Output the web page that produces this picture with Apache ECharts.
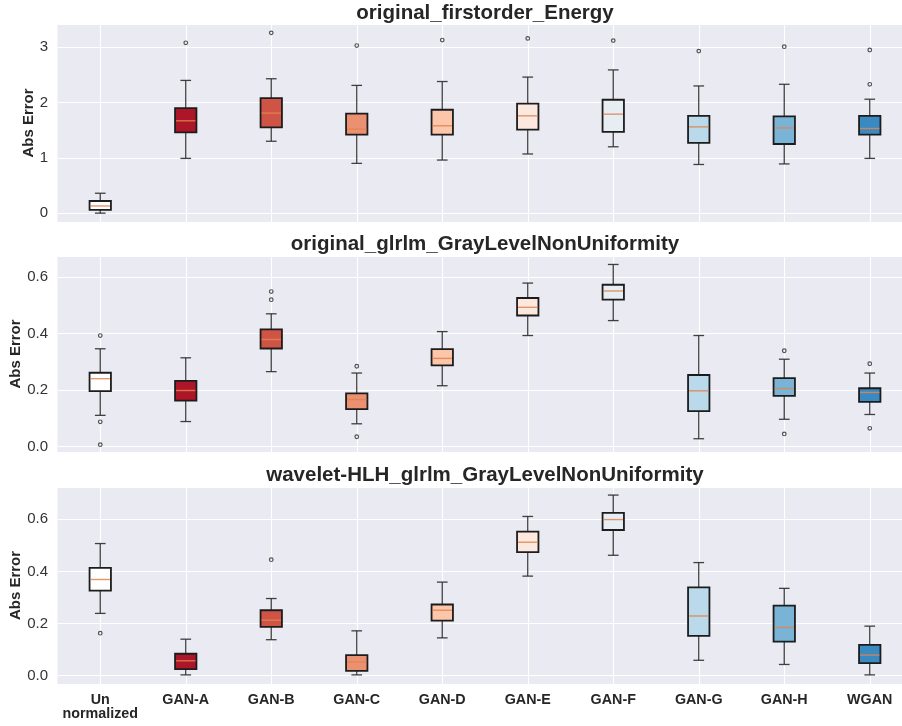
<!DOCTYPE html>
<html>
<head>
<meta charset="utf-8">
<title>Abs Error by normalization method</title>
<script src="https://cdn.jsdelivr.net/npm/echarts@6/dist/echarts.min.js"></script>
<style>
  html, body { margin: 0; padding: 0; background: #ffffff; }
  #chart { width: 902px; height: 726px; }
</style>
</head>
<body>
<div id="chart"></div>
<script>
// Methods compared on the x axis
const categories = ['Un\nnormalized', 'GAN-A', 'GAN-B', 'GAN-C', 'GAN-D', 'GAN-E', 'GAN-F', 'GAN-G', 'GAN-H', 'WGAN'];
const boxColors = ['#ffffff', '#ad1529', '#d05446', '#eb9070', '#fbc6a9', '#fce8de', '#e6eef4', '#bad9ea', '#79b4d7', '#3a8ac1'];

// Box statistics per method: [lower whisker, Q1, median, Q3, upper whisker]
const energyStats = [
  [0.00, 0.06, 0.13, 0.22, 0.36],
  [0.99, 1.46, 1.67, 1.90, 2.40],
  [1.30, 1.55, 1.81, 2.08, 2.43],
  [0.90, 1.42, 1.52, 1.80, 2.31],
  [0.96, 1.42, 1.58, 1.87, 2.38],
  [1.07, 1.51, 1.76, 1.98, 2.46],
  [1.20, 1.47, 1.79, 2.05, 2.59],
  [0.88, 1.27, 1.56, 1.76, 2.30],
  [0.89, 1.25, 1.54, 1.75, 2.33],
  [0.99, 1.42, 1.53, 1.76, 2.06]
];
// Outliers: [method index, value]
const energyOutliers = [
  [1, 3.08], [2, 3.26], [3, 3.03], [4, 3.13], [5, 3.16], [6, 3.12],
  [7, 2.93], [8, 3.01], [9, 2.95], [9, 2.33]
];

const glrlmStats = [
  [0.110, 0.196, 0.240, 0.261, 0.346],
  [0.088, 0.162, 0.198, 0.232, 0.314],
  [0.265, 0.347, 0.379, 0.415, 0.470],
  [0.080, 0.132, 0.166, 0.188, 0.260],
  [0.215, 0.287, 0.312, 0.345, 0.407],
  [0.393, 0.464, 0.493, 0.526, 0.579],
  [0.446, 0.520, 0.551, 0.573, 0.645],
  [0.027, 0.125, 0.197, 0.253, 0.393],
  [0.096, 0.179, 0.205, 0.242, 0.309],
  [0.113, 0.158, 0.191, 0.206, 0.260]
];
const glrlmOutliers = [
  [0, 0.393], [0, 0.087], [0, 0.006],
  [2, 0.549], [2, 0.520],
  [3, 0.284], [3, 0.034],
  [8, 0.339], [8, 0.044],
  [9, 0.293], [9, 0.064]
];

const waveletStats = [
  [0.239, 0.326, 0.369, 0.414, 0.507],
  [0.003, 0.025, 0.057, 0.084, 0.140],
  [0.138, 0.187, 0.213, 0.251, 0.296],
  [0.003, 0.018, 0.052, 0.079, 0.172],
  [0.145, 0.211, 0.251, 0.273, 0.359],
  [0.382, 0.474, 0.512, 0.553, 0.611],
  [0.462, 0.559, 0.599, 0.625, 0.693],
  [0.059, 0.153, 0.229, 0.339, 0.434],
  [0.043, 0.131, 0.185, 0.269, 0.335],
  [0.003, 0.048, 0.079, 0.118, 0.190]
];
const waveletOutliers = [
  [0, 0.163], [2, 0.445]
];

const panelTitles = [
  'original_firstorder_Energy',
  'original_glrlm_GrayLevelNonUniformity',
  'wavelet-HLH_glrlm_GrayLevelNonUniformity'
];
const yRanges = [[-0.16, 3.42], [-0.02, 0.675], [-0.032, 0.724]];

const panels = [
  { stats: energyStats, outliers: energyOutliers, top: 24, height: 198, titleY: 13, nameGap: 21 },
  { stats: glrlmStats, outliers: glrlmOutliers, top: 256, height: 196, titleY: 244, nameGap: 34 },
  { stats: waveletStats, outliers: waveletOutliers, top: 487, height: 197, titleY: 475, nameGap: 34 }
];

const FONT = '"Liberation Sans", Arial, Helvetica, sans-serif';
const GRID_LEFT = 57.5;
const GRID_WIDTH = 855;

function renderBox(params, api) {
  const idx = api.value(0);
  const pLow = api.coord([idx, api.value(1)]);
  const pQ1 = api.coord([idx, api.value(2)]);
  const pMed = api.coord([idx, api.value(3)]);
  const pQ3 = api.coord([idx, api.value(4)]);
  const pHigh = api.coord([idx, api.value(5)]);
  const band = api.size([1, 0])[0];
  const bw = band * 0.25;
  const cap = bw * 0.5;
  const x = pMed[0];
  const whisker = { stroke: '#2e2e2e', lineWidth: 1.3, opacity: 0.9 };
  return {
    type: 'group',
    children: [
      { type: 'line', shape: { x1: x, y1: pLow[1], x2: x, y2: pQ1[1] }, style: whisker },
      { type: 'line', shape: { x1: x, y1: pQ3[1], x2: x, y2: pHigh[1] }, style: whisker },
      { type: 'line', shape: { x1: x - cap / 2, y1: pLow[1], x2: x + cap / 2, y2: pLow[1] }, style: whisker },
      { type: 'line', shape: { x1: x - cap / 2, y1: pHigh[1], x2: x + cap / 2, y2: pHigh[1] }, style: whisker },
      {
        type: 'rect',
        shape: { x: x - bw / 2, y: pQ3[1], width: bw, height: pQ1[1] - pQ3[1] },
        style: { fill: boxColors[idx], stroke: '#1c1c1c', lineWidth: 1.8 }
      },
      {
        type: 'line',
        shape: { x1: x - bw / 2 + 1, y1: pMed[1], x2: x + bw / 2 - 1, y2: pMed[1] },
        style: { stroke: '#e0844f', lineWidth: 1.4, opacity: 0.85 }
      }
    ]
  };
}

const option = {
  backgroundColor: '#ffffff',
  animation: false,
  title: panels.map((p, i) => ({
    text: panelTitles[i],
    left: GRID_LEFT + GRID_WIDTH / 2,
    top: p.titleY,
    textAlign: 'center',
    textVerticalAlign: 'middle',
    textStyle: { fontFamily: FONT, fontWeight: 'bold', fontSize: 20.5, color: '#262626' },
    padding: 0
  })),
  grid: panels.map(p => ({
    left: GRID_LEFT,
    width: GRID_WIDTH,
    top: p.top,
    height: p.height,
    show: true,
    backgroundColor: '#eaeaf2',
    borderWidth: 0,
    outerBoundsMode: 'none',
    containLabel: false
  })),
  xAxis: panels.map((p, i) => ({
    type: 'category',
    gridIndex: i,
    data: categories,
    boundaryGap: true,
    axisLine: { show: false },
    axisTick: { show: false, alignWithLabel: true },
    axisLabel: {
      show: i === 2,
      interval: 0,
      margin: 8.5,
      fontFamily: FONT,
      fontWeight: 'bold',
      fontSize: 14.3,
      lineHeight: 14.5,
      color: '#262626'
    },
    splitLine: { show: true, alignWithLabel: true, lineStyle: { color: '#ffffff', width: 1.1 } }
  })),
  yAxis: panels.map((p, i) => ({
    type: 'value',
    gridIndex: i,
    min: yRanges[i][0],
    max: yRanges[i][1],
    splitNumber: 4,
    name: 'Abs Error',
    nameLocation: 'middle',
    nameGap: p.nameGap,
    nameMoveOverlap: false,
    nameTextStyle: { fontFamily: FONT, fontWeight: 'bold', fontSize: 15, color: '#262626' },
    axisLine: { show: false },
    axisTick: { show: false },
    axisLabel: {
      margin: 9.5,
      showMinLabel: false,
      showMaxLabel: false,
      fontFamily: FONT,
      fontSize: 15,
      color: '#333333',
      formatter: v => (i === 0 ? String(Math.round(v)) : v.toFixed(1))
    },
    splitLine: { show: true, lineStyle: { color: '#ffffff', width: 1.1 } }
  })),
  series: panels.flatMap((p, i) => [
    {
      type: 'custom',
      name: panelTitles[i],
      xAxisIndex: i,
      yAxisIndex: i,
      renderItem: renderBox,
      encode: { x: 0, y: [1, 2, 3, 4, 5] },
      data: p.stats.map((s, k) => [k].concat(s)),
      z: 3
    },
    {
      type: 'scatter',
      xAxisIndex: i,
      yAxisIndex: i,
      symbol: 'circle',
      symbolSize: 3.6,
      itemStyle: { color: 'rgba(0,0,0,0)', borderColor: '#2a2a2a', borderWidth: 1.2 },
      data: p.outliers,
      z: 4
    }
  ])
};

const chart = echarts.init(document.getElementById('chart'), null, { renderer: 'canvas' });
chart.setOption(option);
</script>
</body>
</html>
